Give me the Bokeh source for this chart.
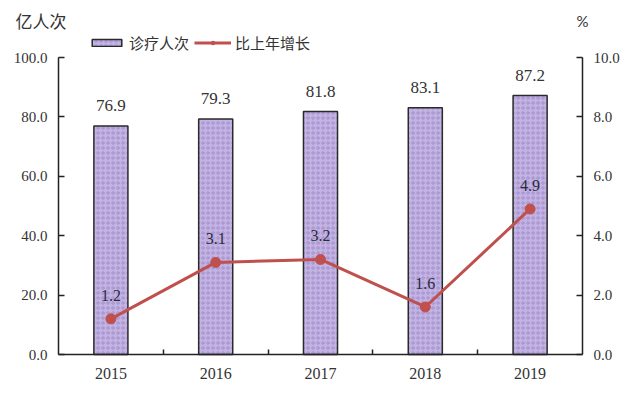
from bokeh.plotting import figure
from bokeh.models import (Range1d, LinearAxis, FixedTicker, LabelSet, Label,
                          ColumnDataSource, Legend, LegendItem)
from bokeh.embed import file_html
from bokeh.resources import INLINE

years = ["2015", "2016", "2017", "2018", "2019"]
visits = [76.9, 79.3, 81.8, 83.1, 87.2]
growth = [1.2, 3.1, 3.2, 1.6, 4.9]
left_ticks = [0, 20, 40, 60, 80, 100]
right_ticks = [0, 2, 4, 6, 8, 10]

SERIF = "Liberation Serif"
SANS = "Lato"
CJK_FONT = "Noto Sans CJK SC"
TXT = "#333333"

W, H = 633, 396
# pixel layout of the plot area inside the canvas
X0_PX, UNIT_X = 58, 104.8          # x=0 at 58px, 104.8px per category
Y0_PX, UNIT_Y = 354, 2.97          # y=0 at 354px, 2.97px per unit (left axis)

n = len(years)
xs = [i + 0.5 for i in range(n)]
src = ColumnDataSource(dict(
    x=xs, visits=visits, growth=growth,
    vlab=[f"{v:.1f}" for v in visits],
    glab=[f"{g:.1f}" for g in growth],
))

x_rng = Range1d(-X0_PX / UNIT_X, (W - X0_PX) / UNIT_X)
y_rng = Range1d(-(H - Y0_PX) / UNIT_Y, Y0_PX / UNIT_Y)

p = figure(output_backend="svg", toolbar_location=None,
           width=W, height=H,
           min_border_left=0, min_border_right=0,
           min_border_top=0, min_border_bottom=0,
           x_range=x_rng, y_range=y_rng,
           background_fill_color="white", border_fill_color="white")
p.outline_line_color = None
p.grid.visible = False
p.xaxis.visible = False
p.yaxis.visible = False

p.extra_y_ranges = {"pct": Range1d(y_rng.start / 10, y_rng.end / 10)}

bars = p.vbar(x="x", top="visits", width=0.325, source=src,
              fill_color="#c3b3e3", line_color="#2a2a2a", line_width=1.5,
              hatch_pattern="o", hatch_color="#9c88c9", hatch_scale=5,
              hatch_weight=0.8)
line = p.line(x="x", y="growth", source=src, y_range_name="pct",
              line_color="#c0504d", line_width=3)
dots = p.scatter(x="x", y="growth", source=src, y_range_name="pct",
                 size=10, fill_color="#c0504d", line_color="#c0504d")

# axes
bottom = LinearAxis(ticker=FixedTicker(ticks=xs, minor_ticks=list(range(1, n))),
                    major_label_overrides={x: y for x, y in zip(xs, years)},
                    fixed_location=0, bounds=(0, n))
bottom.major_tick_in = 0
bottom.major_tick_out = 0
bottom.minor_tick_in = 5
bottom.minor_tick_out = 0
bottom.axis_line_color = "#222222"
bottom.axis_line_width = 1.5
bottom.minor_tick_line_color = "#222222"
bottom.minor_tick_line_width = 1.5
bottom.major_label_text_font = SERIF
bottom.major_label_text_font_size = "16px"
bottom.major_label_text_color = TXT
bottom.major_label_standoff = 13
p.add_layout(bottom, "below")

left = LinearAxis(ticker=FixedTicker(ticks=left_ticks),
                  major_label_overrides={t: f"{t:.1f}" for t in left_ticks},
                  fixed_location=0, bounds=(0, 100))
right = LinearAxis(y_range_name="pct", ticker=FixedTicker(ticks=right_ticks),
                   major_label_overrides={t: f"{t:.1f}" for t in right_ticks},
                   fixed_location=n, bounds=(0, 10))
for ax in (left, right):
    ax.major_tick_in = 6
    ax.major_tick_out = 0
    ax.minor_tick_line_color = None
    ax.axis_line_color = "#222222"
    ax.axis_line_width = 1.5
    ax.major_tick_line_color = "#222222"
    ax.major_tick_line_width = 1.5
    ax.major_label_text_font = SERIF
    ax.major_label_text_font_size = "15px"
    ax.major_label_text_color = TXT
    ax.major_label_standoff = 11
p.add_layout(left, "left")
p.add_layout(right, "right")

# value labels
p.add_layout(LabelSet(x="x", y="visits", text="vlab", source=src,
                      text_align="center", text_baseline="alphabetic", y_offset=15,
                      text_font=SANS, text_font_size="17px", text_color=TXT))
p.add_layout(LabelSet(x="x", y="growth", text="glab", source=src,
                      y_range_name="pct",
                      text_align="center", text_baseline="alphabetic", y_offset=18,
                      text_font=SANS, text_font_size="16px", text_color="#2b2b3b"))

# unit titles
p.add_layout(Label(x=15, y=H - 20, x_units="screen", y_units="screen",
                   text="亿人次", text_font=CJK_FONT, text_font_size="17px",
                   text_color=TXT, text_baseline="middle"))
p.add_layout(Label(x=576, y=H - 20, x_units="screen", y_units="screen",
                   text="%", text_font=SANS, text_font_size="15px",
                   text_color=TXT, text_baseline="middle"))

legend = Legend(items=[LegendItem(label="诊疗人次", renderers=[bars]),
                       LegendItem(label="比上年增长", renderers=[line, dots])],
                orientation="horizontal", location=(88, H - 53),
                label_text_font=CJK_FONT, label_text_font_size="15px",
                label_text_color=TXT, label_height=18,
                glyph_width=37, glyph_height=9, spacing=5,
                padding=0, margin=0, label_standoff=4,
                border_line_color=None, background_fill_alpha=0)
p.add_layout(legend, "center")

open("out.html", "w").write(file_html(p, INLINE))
